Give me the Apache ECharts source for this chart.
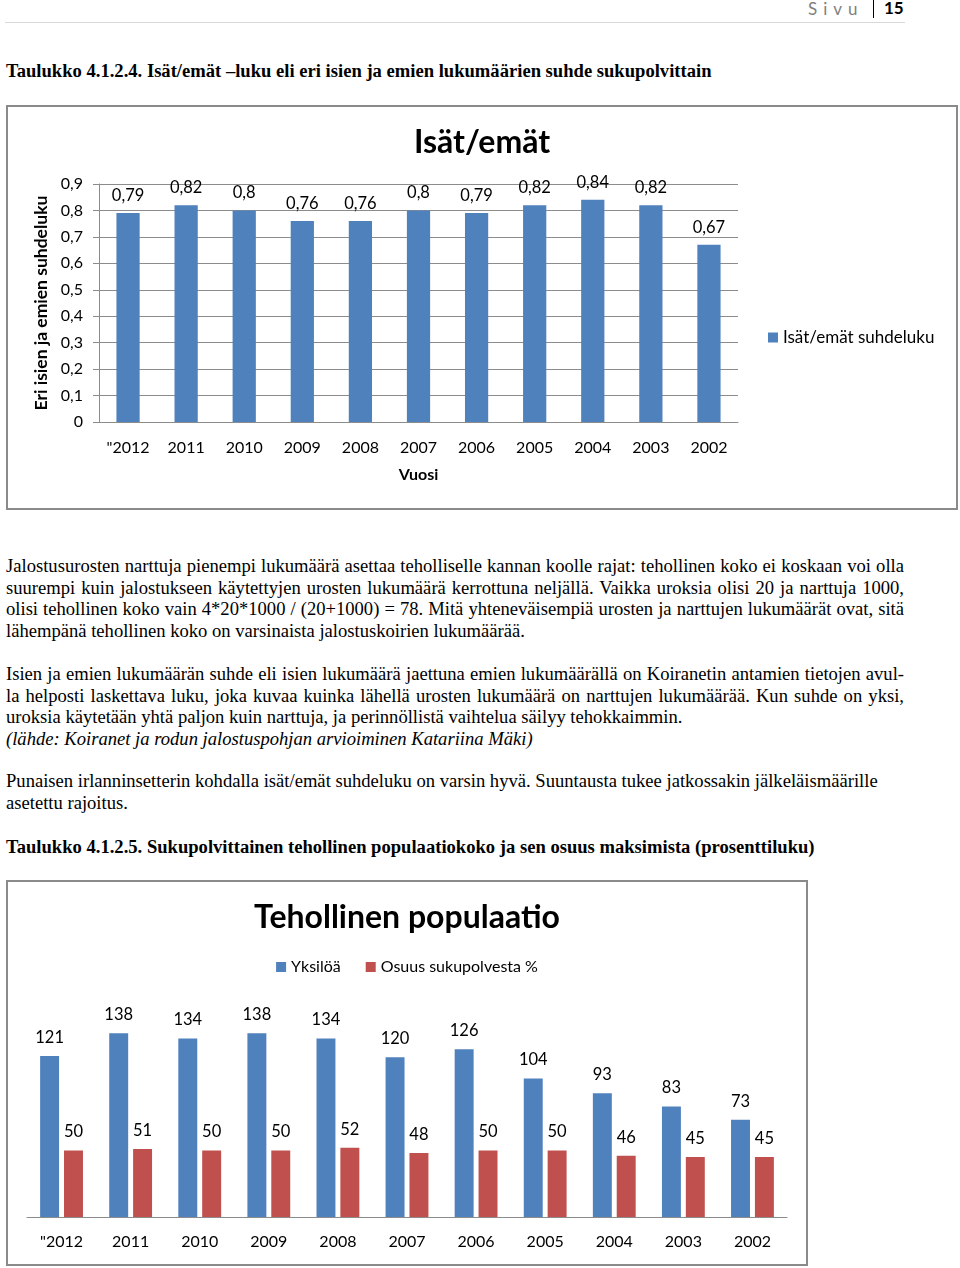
<!DOCTYPE html>
<html>
<head>
<meta charset="utf-8">
<script src="https://cdn.jsdelivr.net/npm/echarts@6/dist/echarts.min.js"></script>
<style>
  html, body { margin: 0; padding: 0; background: #fff; }
  body { width: 960px; height: 1268px; position: relative; overflow: hidden; }
  .ln { position: absolute; left: 6px; width: 898px; font-family: "Liberation Serif", "Times New Roman", serif; font-size: 18.6px; line-height: 22px; color: #000; white-space: nowrap; }
  .j { text-align: justify; text-align-last: justify; white-space: normal; }
  .b { font-weight: bold; }
  .i { font-style: italic; }
  #hdr { position: absolute; top: -2px; left: 808px; font-family: Lato, "Open Sans", sans-serif; font-size: 17px; color: #7f7f7f; letter-spacing: 6px; }
  #hdr15 { position: absolute; top: -2px; left: 873px; font-family: Lato, "Open Sans", sans-serif; font-size: 17px; color: #000; font-weight: bold; border-left: 1px solid #000; padding-left: 10px; line-height: 20px; }
  #rule { position: absolute; top: 22px; left: 5px; width: 900px; height: 0; border-top: 1px solid #d9d9d9; }
  .chart { position: absolute; box-sizing: border-box; border: 2px solid #8a8a8a; }
</style>
</head>
<body>
<div id="hdr">Sivu</div>
<div id="hdr15">15</div>
<div id="rule"></div>

<div class="ln b" style="top:60px">Taulukko 4.1.2.4. Isät/emät –luku eli eri isien ja emien lukumäärien suhde sukupolvittain</div>

<div id="c1" class="chart" style="left:6px; top:105px; width:952px; height:405px;"></div>

<div class="ln j" style="top:555px">Jalostusurosten narttuja pienempi lukumäärä asettaa teholliselle kannan koolle rajat: tehollinen koko ei koskaan voi olla</div>
<div class="ln j" style="top:577px">suurempi kuin jalostukseen käytettyjen urosten lukumäärä kerrottuna neljällä. Vaikka uroksia olisi 20 ja narttuja 1000,</div>
<div class="ln j" style="top:598px">olisi tehollinen koko vain 4*20*1000 / (20+1000) = 78. Mitä yhteneväisempiä urosten ja narttujen lukumäärät ovat, sitä</div>
<div class="ln" style="top:620px">lähempänä tehollinen koko on varsinaista jalostuskoirien lukumäärää.</div>

<div class="ln j" style="top:663px">Isien ja emien lukumäärän suhde eli isien lukumäärä jaettuna emien lukumäärällä on Koiranetin antamien tietojen avul-</div>
<div class="ln j" style="top:685px">la helposti laskettava luku, joka kuvaa kuinka lähellä urosten lukumäärä on narttujen lukumäärää. Kun suhde on yksi,</div>
<div class="ln" style="top:706px">uroksia käytetään yhtä paljon kuin narttuja, ja perinnöllistä vaihtelua säilyy tehokkaimmin.</div>
<div class="ln i" style="top:728px">(lähde: Koiranet ja rodun jalostuspohjan arvioiminen Katariina Mäki)</div>

<div class="ln" style="top:770px">Punaisen irlanninsetterin kohdalla isät/emät suhdeluku on varsin hyvä. Suuntausta tukee jatkossakin jälkeläismäärille</div>
<div class="ln" style="top:792px">asetettu rajoitus.</div>

<div class="ln b" style="top:836px">Taulukko 4.1.2.5. Sukupolvittainen tehollinen populaatiokoko ja sen osuus maksimista (prosenttiluku)</div>

<div id="c2" class="chart" style="left:6px; top:880px; width:802px; height:386px;"></div>

<script>
// ---- data ----
const years = ['"2012', '2011', '2010', '2009', '2008', '2007', '2006', '2005', '2004', '2003', '2002'];
const ratioValues = [0.79, 0.82, 0.8, 0.76, 0.76, 0.8, 0.79, 0.82, 0.84, 0.82, 0.67];
const individuals = [121, 138, 134, 138, 134, 120, 126, 104, 93, 83, 73];
const sharePercent = [50, 51, 50, 50, 52, 48, 50, 50, 46, 45, 45];
const chart1Title = 'Isät/emät';
const chart1Series = 'Isät/emät suhdeluku';
const chart1YName = 'Eri isien ja emien suhdeluku';
const chart1XName = 'Vuosi';
const chart2Title = 'Tehollinen populaatio';
const chart2Series = ['Yksilöä', 'Osuus sukupolvesta %'];

const FONT = 'Lato, "Open Sans", sans-serif';
const BLUE = '#4f81bd';
const RED = '#c0504d';
const GRID = '#8c8c8c';
const comma = v => String(v).replace('.', ',');

const c1 = echarts.init(document.getElementById('c1'), null, { renderer: 'canvas' });
c1.setOption({
  animation: false,
  textStyle: { fontFamily: FONT },
  title: {
    text: chart1Title, left: 'center', top: 15,
    textStyle: { fontFamily: FONT, fontSize: 32, fontWeight: 'bold', color: '#000' }
  },
  legend: {
    orient: 'vertical', left: 755, top: 217,
    itemWidth: 10, itemHeight: 10, icon: 'rect', itemGap: 5,
    textStyle: { fontFamily: FONT, fontSize: 17, color: '#000' },
    data: [chart1Series]
  },
  grid: { left: 91, right: 218, top: 77, bottom: 86 },
  xAxis: {
    type: 'category', data: years,
    axisLine: { lineStyle: { color: GRID, width: 1 } },
    axisTick: { show: false },
    axisLabel: { color: '#000', fontSize: 16, margin: 18, fontFamily: FONT },
    name: chart1XName, nameLocation: 'middle', nameGap: 45,
    nameTextStyle: { fontSize: 16, fontWeight: 'bold', color: '#000', fontFamily: FONT }
  },
  yAxis: {
    type: 'value', min: 0, max: 0.9, interval: 0.1,
    axisLine: { show: true, lineStyle: { color: GRID } },
    axisTick: { show: true, length: 6, lineStyle: { color: GRID } },
    splitLine: { lineStyle: { color: GRID } },
    axisLabel: { color: '#000', fontSize: 16, margin: 16, formatter: v => comma(Math.round(v * 10) / 10), fontFamily: FONT },
    name: chart1YName, nameLocation: 'middle', nameGap: 47, nameRotate: 90,
    nameTextStyle: { fontSize: 17.5, fontWeight: 'bold', color: '#000', fontFamily: FONT }
  },
  series: [{
    name: chart1Series, type: 'bar', data: ratioValues,
    barCategoryGap: '60%',
    itemStyle: { color: BLUE },
    label: { show: true, position: 'top', distance: 9, color: '#000', fontSize: 16.5, fontFamily: FONT, formatter: p => comma(p.value) }
  }]
});

const c2 = echarts.init(document.getElementById('c2'), null, { renderer: 'canvas' });
c2.setOption({
  animation: false,
  textStyle: { fontFamily: FONT },
  title: {
    text: chart2Title, left: 'center', top: 15,
    textStyle: { fontFamily: FONT, fontSize: 32, fontWeight: 'bold', color: '#000' }
  },
  legend: {
    left: 'center', top: 72, itemGap: 25,
    itemWidth: 10, itemHeight: 10, icon: 'rect',
    textStyle: { fontFamily: FONT, fontSize: 16, color: '#000' },
    data: chart2Series
  },
  grid: { left: 19, right: 19, top: 122, bottom: 47 },
  xAxis: {
    type: 'category', data: years,
    axisLine: { lineStyle: { color: GRID, width: 1 } },
    axisTick: { show: false },
    axisLabel: { color: '#000', fontSize: 16, margin: 17, fontFamily: FONT }
  },
  yAxis: {
    type: 'value', min: 0, max: 160, show: false,
    splitLine: { show: false }
  },
  series: [{
    name: chart2Series[0], type: 'bar', data: individuals,
    barGap: '26%', barCategoryGap: '38%',
    itemStyle: { color: BLUE },
    label: { show: true, position: 'top', distance: 10, color: '#000', fontSize: 16.5, fontFamily: FONT }
  }, {
    name: chart2Series[1], type: 'bar', data: sharePercent,
    barGap: '26%', barCategoryGap: '38%',
    itemStyle: { color: RED },
    label: { show: true, position: 'top', distance: 10, color: '#000', fontSize: 16.5, fontFamily: FONT }
  }]
});
</script>
</body>
</html>
